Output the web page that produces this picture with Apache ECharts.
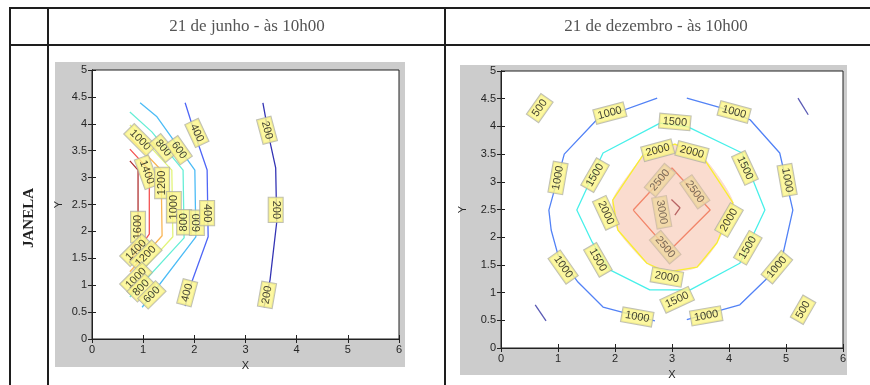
<!DOCTYPE html>
<html><head><meta charset="utf-8">
<script src="https://cdn.jsdelivr.net/npm/echarts@6/dist/echarts.min.js"></script>
<style>html,body{margin:0;padding:0;background:#fff}#c{width:870px;height:385px}</style>
</head><body><div id="c"></div>
<script>
// ---------- texts ----------
const headers = ['21 de junho - às 10h00', '21 de dezembro - às 10h00'];
const rowLabel = 'JANELA';
const xTickMax = 6, yTickMax = 5;

// ---------- left chart (21 de junho) contour lines, data coords ----------
const jun200  = [[3.34,4.39],[3.48,3.66],[3.59,3.18],[3.61,2.17],[3.48,1.10],[3.36,0.59]];
const jun400  = [[1.82,4.39],[2.05,3.70],[2.25,3.14],[2.27,1.90],[1.95,1.06],[1.82,0.61]];
const jun600  = [[0.94,4.39],[1.27,4.13],[2.01,3.14],[2.03,1.90],[0.98,0.59]];
const jun800  = [[0.74,4.22],[1.17,3.85],[1.78,3.14],[1.80,1.88],[0.74,0.78]];
const jun1000 = [[0.74,3.98],[1.56,3.14],[1.58,1.90],[0.74,1.02]];
const jun1200 = [[0.74,3.75],[1.35,3.14],[1.37,1.92],[0.74,1.25]];
const jun1400 = [[0.74,3.53],[1.12,3.14],[1.12,1.95],[0.74,1.45]];
const jun1600 = [[0.74,3.31],[0.90,3.14],[0.90,1.85],[0.74,1.65]];
const junLines = [jun200, jun400, jun600, jun800, jun1000, jun1200, jun1400, jun1600];
const junLevels = [200, 400, 600, 800, 1000, 1200, 1400, 1600];

const junLabelPos = [[2.05,3.83],[0.94,3.70],[1.39,3.55],[1.70,3.51],[1.07,3.10],[1.37,2.90],
  [1.60,2.45],[1.80,2.17],[2.05,2.16],[2.25,2.34],[0.90,2.08],[0.86,1.65],[1.05,1.54],
  [0.86,1.13],[0.96,0.95],[1.17,0.82],[1.86,0.86],[3.42,3.88],[3.59,2.40],[3.42,0.82]];
const junLabelText = ['400','1000','800','600','1400','1200','1000','800','600','400','1600',
  '1400','1200','1000','800','600','400','200','200','200'];

// ---------- right chart (21 de dezembro) contour lines ----------
const dez500a  = [[5.21,4.51],[5.39,4.21]];
const dez500b  = [[0.60,0.78],[0.79,0.49]];
const dez1000a = [[2.74,4.51],[1.68,4.12],[1.11,3.50],[0.84,2.49],[0.88,2.13],[1.00,1.68],[1.35,1.19],[1.79,0.74],[2.70,0.49]];
const dez1000b = [[3.26,0.51],[4.19,0.78],[4.67,1.26],[4.95,1.71],[5.12,2.49],[4.89,3.52],[4.37,4.12],[3.88,4.33],[3.26,4.51]];
const dez1500  = [[2.79,4.06],[1.79,3.52],[1.33,2.49],[1.60,1.91],[1.91,1.41],[2.61,1.05],[3.32,1.05],[4.19,1.53],[4.63,2.49],[4.23,3.52],[3.28,3.99],[2.79,4.06]];
const dez2000  = [[2.49,3.48],[1.96,2.67],[2.05,2.13],[2.56,1.53],[2.91,1.37],[3.44,1.46],[3.79,1.90],[4.07,2.62],[3.54,3.45],[3.05,3.68],[2.49,3.48]];
const dez2500  = [[2.32,2.49],[3.00,3.25],[3.67,2.49],[2.95,1.75],[2.32,2.49]];
const dez3000  = [[2.99,2.68],[3.14,2.53],[3.05,2.40]];
const dezLines = [dez500a, dez500b, dez1000a, dez1000b, dez1500, dez2000, dez2500, dez3000];
const dezLevels = [500, 500, 1000, 1000, 1500, 2000, 2500, 3000];

const dezLabelPos = [[0.68,4.33],[1.91,4.24],[4.09,4.26],[3.05,4.08],[2.75,3.57],[3.35,3.54],
  [1.00,3.07],[1.65,3.12],[4.28,3.25],[5.02,3.03],[1.84,2.44],[2.79,3.03],[3.40,2.82],
  [2.82,2.45],[2.88,1.82],[4.00,2.31],[1.09,1.46],[1.70,1.59],[4.33,1.81],[4.84,1.46],
  [2.91,1.28],[3.09,0.87],[2.39,0.56],[3.60,0.58],[5.30,0.69]];
const dezLabelText = ['500','1000','1000','1500','2000','2000','1000','1500','1500','1000','2000',
  '2500','2500','3000','2500','2000','1000','1500','1500','1000','2000','1500','1000','1000','500'];

// ---------- styling (kept separate from data) ----------
const junColors = {200:'#3434b4',400:'#4f66f6',600:'#4cbcf6',800:'#66eed6',1000:'#e2f47a',1200:'#f9b656',1400:'#f45252',1600:'#b03232'};
const dezColors = {500:'#5a5ab4',1000:'#5282f6',1500:'#48f0ea',2000:'#f8ee30',2500:'#f2866a',3000:'#b86464'};
const junAngles = [-65,-45,-50,-55,-70,90,90,90,90,-90,90,45,45,45,45,45,75,-75,-90,80];
const dezAngles = [55,15,-15,-5,15,-15,80,60,-65,-80,-65,50,-55,-80,-50,60,-55,-60,60,50,-10,25,-10,10,60];
const fillColor = '#fadccf';

function gridAxes(gi, nameGapY) {
  const lbl = {fontFamily:'Liberation Sans, Arial', fontSize:11, color:'#262626'};
  return {
    x: [
      {gridIndex:gi, type:'value', min:0, max:xTickMax, interval:1, position:'bottom',
       name:'X', nameLocation:'middle', nameGap:21, nameTextStyle:lbl,
       axisLine:{show:true,lineStyle:{color:'#222',width:1}}, axisTick:{inside:true,length:4,lineStyle:{color:'#222'}},
       axisLabel:Object.assign({margin:5}, lbl), splitLine:{show:false}},
      {gridIndex:gi, type:'value', min:0, max:xTickMax, interval:1, position:'top',
       axisLine:{show:true,lineStyle:{color:'#222'}}, axisTick:{inside:true,length:4,lineStyle:{color:'#222'}},
       axisLabel:{show:false}, splitLine:{show:false}}
    ],
    y: [
      {gridIndex:gi, type:'value', min:0, max:yTickMax, interval:0.5, position:'left',
       name:'Y', nameLocation:'middle', nameGap:nameGapY, nameTextStyle:lbl,
       axisLine:{show:true,lineStyle:{color:'#222',width:1}}, axisTick:{inside:true,length:4,lineStyle:{color:'#222'}},
       axisLabel:Object.assign({margin:5}, lbl), splitLine:{show:false}},
      {gridIndex:gi, type:'value', min:0, max:yTickMax, interval:0.5, position:'right',
       axisLine:{show:true,lineStyle:{color:'#222'}}, axisTick:{inside:true,length:4,lineStyle:{color:'#222'}},
       axisLabel:{show:false}, splitLine:{show:false}}
    ]
  };
}
const a0 = gridAxes(0, 28), a1 = gridAxes(1, 33);

const series = [];
junLines.forEach((pts, i) => series.push({
  type:'line', xAxisIndex:0, yAxisIndex:0, data:pts, symbol:'none', silent:true, z:3,
  lineStyle:{color:junColors[junLevels[i]], width:1.3}, animation:false
}));
series.push({
  type:'custom', xAxisIndex:2, yAxisIndex:2, data:dez2000, silent:true, z:2, animation:false,
  renderItem:(params, api) => {
    if (params.dataIndex !== 0) return {type:'group', children:[]};
    const pts = dez2000.map(p => api.coord(p));
    return {type:'polygon', shape:{points:pts, smooth:0.2}, style:{fill:fillColor, stroke:fillColor, lineWidth:1}};
  }
});
dezLines.forEach((pts, i) => series.push({
  type:'line', xAxisIndex:2, yAxisIndex:2, data:pts, symbol:'none', silent:true, z:3,
  lineStyle:{color:dezColors[dezLevels[i]], width:1.3}, animation:false
}));

const baseLabel = {show:true, position:'inside', formatter:'{b}', fontFamily:'Liberation Sans, Arial',
  fontSize:11, color:'#111', backgroundColor:'#fcf688', borderColor:'#b0b0a0', borderWidth:1, padding:[2,3,1,3]};
function labelData(pos, txt, ang, inner) {
  return pos.map((p, i) => {
    const lab = {rotate:ang[i]};
    if (inner && inner(txt[i])) { lab.backgroundColor = '#f0d8a0'; lab.color = '#5e4e44'; lab.borderColor = '#cbb8a2'; }
    return {value:p, name:txt[i], label:lab};
  });
}
series.push({type:'scatter', xAxisIndex:0, yAxisIndex:0, symbolSize:1, itemStyle:{color:'rgba(0,0,0,0)'},
  silent:true, z:5, animation:false, label:baseLabel, data:labelData(junLabelPos, junLabelText, junAngles)});
series.push({type:'scatter', xAxisIndex:2, yAxisIndex:2, symbolSize:1, itemStyle:{color:'rgba(0,0,0,0)'},
  silent:true, z:5, animation:false, label:baseLabel,
  data:labelData(dezLabelPos, dezLabelText, dezAngles, t => t === '2500' || t === '3000')});

const lineStyle = {stroke:'#1e1e1e', lineWidth:2};
const hdrFont = '17px "Liberation Serif", "DejaVu Serif", serif';
const option = {
  animation:false,
  backgroundColor:'#fff',
  graphic:[
    {type:'rect', z:-5, shape:{x:55, y:62, width:350, height:305}, style:{fill:'#cccccc'}},
    {type:'rect', z:-5, shape:{x:460, y:65, width:387, height:310}, style:{fill:'#cccccc'}},
    {type:'line', z:10, shape:{x1:10, y1:8, x2:870, y2:8}, style:lineStyle},
    {type:'line', z:10, shape:{x1:10, y1:45, x2:870, y2:45}, style:lineStyle},
    {type:'line', z:10, shape:{x1:10, y1:7, x2:10, y2:385}, style:lineStyle},
    {type:'line', z:10, shape:{x1:48, y1:7, x2:48, y2:385}, style:lineStyle},
    {type:'line', z:10, shape:{x1:445, y1:7, x2:445, y2:385}, style:lineStyle},
    {type:'text', z:10, x:247, y:27, style:{text:headers[0], font:hdrFont, fill:'#555', align:'center', verticalAlign:'middle'}},
    {type:'text', z:10, x:656, y:27, style:{text:headers[1], font:hdrFont, fill:'#555', align:'center', verticalAlign:'middle'}},
    {type:'text', z:10, x:29, y:218, rotation:Math.PI/2, style:{text:rowLabel, font:'bold 15px "Liberation Serif", "DejaVu Serif", serif', fill:'#222', align:'center', verticalAlign:'middle'}}
  ],
  grid:[
    {left:92, top:70, width:307, height:269, show:true, backgroundColor:'#fff', borderColor:'#222', borderWidth:1},
    {left:501, top:71, width:342, height:277, show:true, backgroundColor:'#fff', borderColor:'#222', borderWidth:1}
  ],
  xAxis:[a0.x[0], a0.x[1], a1.x[0], a1.x[1]],
  yAxis:[a0.y[0], a0.y[1], a1.y[0], a1.y[1]],
  series
};
echarts.init(document.getElementById('c'), null, {renderer:'canvas'}).setOption(option);
</script></body></html>
